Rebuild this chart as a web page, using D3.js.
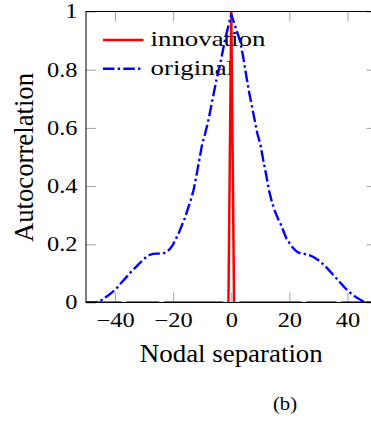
<!DOCTYPE html>
<html>
<head>
<meta charset="utf-8">
<script src="https://cdn.jsdelivr.net/npm/d3@7"></script>
<style>
  html, body { margin: 0; padding: 0; background: #fff; }
  svg { display: block; }
  text { font-family: "Liberation Serif", "Times New Roman", serif; fill: #000; }
</style>
</head>
<body>
<svg id="chart" width="371" height="423"></svg>
<script>
// Nodal separation (lag) axis values
const lags = d3.range(-50, 51);

// Autocorrelation of the original field, lag -50 .. 50
const original = [
  0, 0, 0, 0, 0.002, 0.006, 0.012, 0.02, 0.027, 0.035,
  0.044, 0.054, 0.066, 0.077, 0.088, 0.1, 0.11, 0.12, 0.13, 0.14,
  0.15, 0.158, 0.164, 0.167, 0.168, 0.168, 0.169, 0.17, 0.175, 0.185,
  0.2, 0.22, 0.24, 0.265, 0.29, 0.32, 0.35, 0.385, 0.435, 0.49,
  0.545, 0.58, 0.62, 0.67, 0.72, 0.77, 0.81, 0.86, 0.91, 0.95,
  0.99,
  0.96, 0.93, 0.9, 0.85, 0.79, 0.73, 0.68, 0.63, 0.58, 0.545,
  0.49, 0.44, 0.385, 0.345, 0.315, 0.29, 0.27, 0.245, 0.22, 0.205,
  0.19, 0.18, 0.172, 0.168, 0.167, 0.165, 0.162, 0.158, 0.152, 0.145,
  0.137, 0.128, 0.118, 0.107, 0.096, 0.085, 0.074, 0.063, 0.052, 0.042,
  0.033, 0.025, 0.018, 0.012, 0.006, 0.001, 0, 0, 0, 0
];

// Autocorrelation of the innovation sequence, lag -50 .. 50
const innovation = [
  0, 0, 0, 0, 0, 0, 0, 0, 0, 0,
  0, 0, 0, -0.012, 0, 0, 0, 0, 0, 0,
  0, 0, 0, 0, 0, 0, -0.012, 0, 0, 0,
  0, 0, 0, 0, 0, 0, 0, 0, 0, 0,
  0, 0, 0, 0, 0, 0, 0, 0, -0.015, -0.03,
  1,
  -0.03, -0.015, 0, 0, 0, 0, 0, 0, 0, 0,
  0, 0, 0, 0, 0, 0, 0, 0, 0, 0,
  0, 0, 0, 0, -0.012, 0, 0, 0, 0, 0,
  0, 0, 0, 0, 0, 0, -0.012, 0, 0, 0,
  0, 0, 0, 0, 0, 0, 0, 0, 0, 0
];

const xTicks = [-40, -20, 0, 20, 40];
const yTicks = [0, 0.2, 0.4, 0.6, 0.8, 1];
const seriesNames = ["innovation", "original"];
const seriesColors = ["#ff0000", "#0000ff"];

const svg = d3.select("#chart");
const serif = '"Liberation Serif", "Times New Roman", serif';

const plotLeft = 86, plotRight = 376.5, plotTop = 11.5, plotBottom = 302.5;
const x = d3.scaleLinear().domain([-50, 50]).range([plotLeft, plotRight]);
const y = d3.scaleLinear().domain([0, 1]).range([plotBottom, plotTop]);

const tickColor = "#a0a0a0";
const numFmt = d => d === 1 ? "1" : d3.format("")(d);

// Axes with inward ticks on all four sides
function styleAxis(g) {
  g.attr("font-family", serif).attr("font-size", 20);
  g.select(".domain").remove();
  g.selectAll(".tick line").attr("stroke", tickColor).attr("stroke-width", 1);
  g.selectAll(".tick text")
    .attr("fill", "#000")
    .style("font-family", serif)
    .style("font-size", "20px");
}

const gx = svg.append("g").attr("transform", `translate(0,${plotBottom})`)
  .call(d3.axisBottom(x).tickValues(xTicks).tickSize(-10).tickPadding(10))
  .call(styleAxis);
gx.selectAll(".tick text").attr("transform", "scale(1.22,1)");

svg.append("g").attr("transform", `translate(0,${plotTop})`)
  .call(d3.axisTop(x).tickValues(xTicks).tickSize(-10).tickFormat(""))
  .call(styleAxis);

const gy = svg.append("g").attr("transform", `translate(${plotLeft},0)`)
  .call(d3.axisLeft(y).tickValues(yTicks).tickSize(-10).tickPadding(7).tickFormat(numFmt))
  .call(styleAxis);
gy.selectAll(".tick text").attr("transform", "scale(1.22,1)");

svg.append("g").attr("transform", `translate(${plotRight},0)`)
  .call(d3.axisRight(y).tickValues(yTicks).tickSize(-10).tickFormat(""))
  .call(styleAxis);

// Legend
const legend = svg.append("g");
seriesNames.forEach((name, i) => {
  const ly = 40 + i * 28.7;
  const line = legend.append("line")
    .attr("x1", 103).attr("x2", 143.5)
    .attr("y1", ly).attr("y2", ly)
    .attr("stroke", seriesColors[i])
    .attr("stroke-width", 2.5);
  if (i === 1) line.attr("stroke-dasharray", "11.5,3.2,2.4,3.2");
  legend.append("text")
    .attr("transform", `translate(150.5,${ly + 6}) scale(1.25,1)`)
    .style("font-size", "21.5px")
    .text(name);
});

// Plot area clipping
svg.append("defs").append("clipPath").attr("id", "plotClip")
  .append("rect")
  .attr("x", plotLeft).attr("y", plotTop)
  .attr("width", plotRight - plotLeft).attr("height", plotBottom - plotTop);

const lineGen = vals => d3.line()
  .x((d, i) => x(lags[i]))
  .y(d => y(d))(vals);

const plot = svg.append("g").attr("clip-path", "url(#plotClip)");

plot.append("path")
  .attr("d", lineGen(innovation))
  .attr("fill", "none")
  .attr("stroke", seriesColors[0])
  .attr("stroke-width", 2.5)
  .attr("stroke-linejoin", "round");

plot.append("path")
  .attr("d", lineGen(original))
  .attr("fill", "none")
  .attr("stroke", seriesColors[1])
  .attr("stroke-width", 2.4)
  .attr("stroke-linejoin", "round")
  .attr("stroke-dasharray", "11.5,3.2,2.4,3.2");

// Axis frame
svg.append("rect")
  .attr("x", plotLeft).attr("y", plotTop)
  .attr("width", plotRight - plotLeft).attr("height", plotBottom - plotTop)
  .attr("fill", "none")
  .attr("stroke", "#000")
  .attr("stroke-width", 1);

// Axis titles
svg.append("text")
  .attr("transform", "translate(231.3,362.3) scale(1.035,1)")
  .attr("text-anchor", "middle")
  .style("font-size", "26px")
  .text("Nodal separation");

svg.append("text")
  .attr("transform", "translate(33.3,157.5) rotate(-90) scale(0.955,1)")
  .attr("text-anchor", "middle")
  .style("font-size", "28px")
  .text("Autocorrelation");

// Panel label
svg.append("text")
  .attr("transform", "translate(285,410) scale(1.15,1)")
  .attr("text-anchor", "middle")
  .style("font-size", "18px")
  .text("(b)");
</script>
</body>
</html>
